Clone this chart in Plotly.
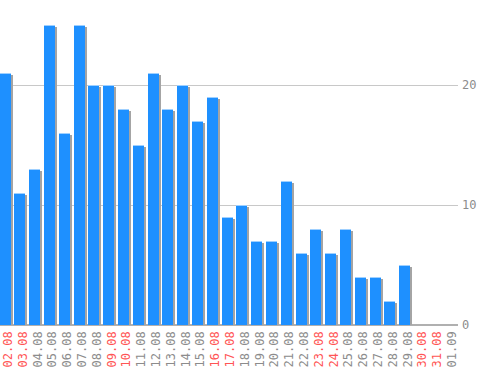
import plotly.graph_objects as go

dates = ["02.08","03.08","04.08","05.08","06.08","07.08","08.08","09.08","10.08","11.08",
         "12.08","13.08","14.08","15.08","16.08","17.08","18.08","19.08","20.08","21.08",
         "22.08","23.08","24.08","25.08","26.08","27.08","28.08","29.08","30.08","31.08","01.09"]
values = [21,11,13,25,16,25,20,20,18,15,21,18,20,17,19,9,10,7,7,12,6,8,6,8,4,4,2,5,0,0,0]
weekends = ["02.08","03.08","09.08","10.08","16.08","17.08","23.08","24.08","30.08","31.08"]
y_ticks = [0, 10, 20]

x = list(range(len(dates)))
ticktext = [
    f"<span style='color:#ff5555'>{d}</span>" if d in weekends else d for d in dates
]

bw = 0.74
px_per_unit_x = 14.8
px_per_unit_y = 12.0
hl = 1 / px_per_unit_y  # 1px highlight on bar tops

fig = go.Figure()
# shadow
fig.add_trace(go.Bar(
    x=x, y=values, base=-2/px_per_unit_y,
    width=bw, offset=-bw/2 + 2/px_per_unit_x,
    marker=dict(color="#a4a4a4", line=dict(width=0)),
    hoverinfo="skip", showlegend=False,
))
# main bars
fig.add_trace(go.Bar(
    x=x, y=values,
    width=bw, offset=-bw/2,
    marker=dict(color="#1e90ff", line=dict(width=0)),
    showlegend=False,
))
# top highlight
fig.add_trace(go.Bar(
    x=x, y=[hl if v > 0 else 0 for v in values], base=[v - hl for v in values],
    width=bw, offset=-bw/2,
    marker=dict(color="#9fd0ff", line=dict(width=0)),
    hoverinfo="skip", showlegend=False,
))

mono = "DejaVu Sans Mono"
fig.update_layout(
    width=498, height=370,
    margin=dict(l=0, r=40, t=0, b=45, autoexpand=False),
    paper_bgcolor="#ffffff", plot_bgcolor="#ffffff",
    barmode="overlay", bargap=0,
    xaxis=dict(
        range=[-0.345, 30.6], automargin=False,
        tickmode="array", tickvals=x, ticktext=ticktext,
        tickangle=-90, tickfont=dict(family=mono, size=12, color="#8c8c8c"),
        ticklabeloverflow="allow", ticklabelshift=3, ticklabelstandoff=3,
        showgrid=False, zeroline=False, showline=False, ticks="",
    ),
    yaxis=dict(
        side="right", automargin=False,
        range=[0, 325/px_per_unit_y],
        tickmode="array", tickvals=y_ticks,
        tickfont=dict(family=mono, size=12, color="#8c8c8c"),
        ticklabelstandoff=3,
        showgrid=True, gridcolor="#c8c8c8", gridwidth=1,
        zeroline=True, zerolinecolor="#b0b0b0", zerolinewidth=2,
        showline=False, ticks="",
    ),
)

fig.write_html(
    "out.html",
    config={"displayModeBar": False},
    post_script="document.body.style.margin='0';document.body.style.overflow='hidden';",
)
